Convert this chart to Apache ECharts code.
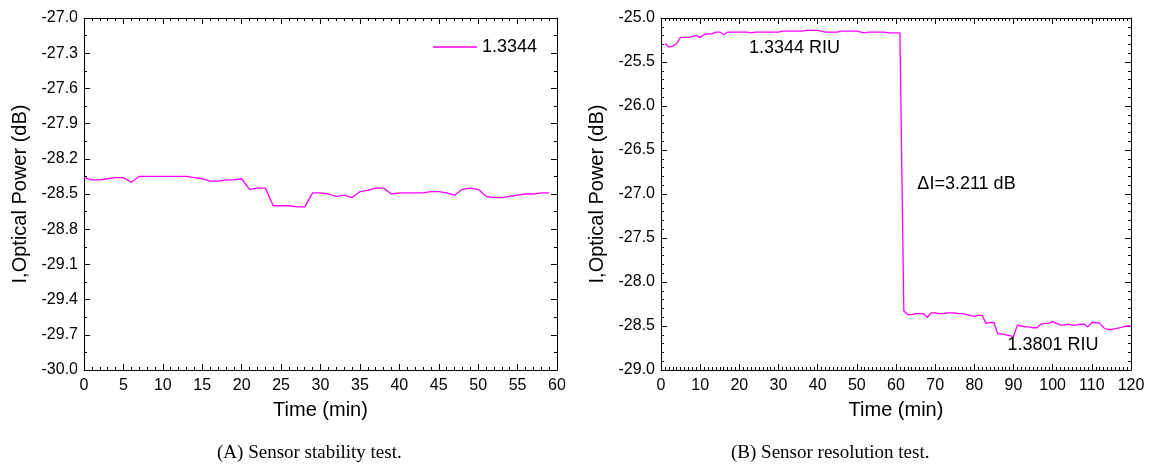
<!DOCTYPE html>
<html>
<head>
<meta charset="utf-8">
<style>
  html, body { margin: 0; padding: 0; background: #fff; }
  #chart { width: 1152px; height: 469px; }
</style>
<script src="https://cdn.jsdelivr.net/npm/echarts@6/dist/echarts.min.js"></script>
</head>
<body>
<div id="chart"></div>
<script>
// (A) 稳定性测试：0-59 min
const stabTime = [0, 1, 2, 3, 4, 5, 6, 7, 8, 9, 10, 11, 12, 13, 14, 15, 16, 17, 18, 19,
  20, 21, 22, 23, 24, 25, 26, 27, 28, 29, 30, 31, 32, 33, 34, 35, 36, 37, 38, 39,
  40, 41, 42, 43, 44, 45, 46, 47, 48, 49, 50, 51, 52, 53, 54, 55, 56, 57, 58, 59]
const stabPower = [-28.36, -28.38, -28.38, -28.37, -28.36, -28.36, -28.40, -28.35, -28.35, -28.35,
  -28.35, -28.35, -28.35, -28.35, -28.36, -28.37, -28.39, -28.39, -28.38, -28.38,
  -28.37, -28.46, -28.45, -28.45, -28.60, -28.60, -28.60, -28.61, -28.61, -28.49,
  -28.49, -28.50, -28.52, -28.51, -28.53, -28.48, -28.47, -28.45, -28.45, -28.50,
  -28.49, -28.49, -28.49, -28.49, -28.48, -28.48, -28.49, -28.51, -28.46, -28.45,
  -28.46, -28.52, -28.53, -28.53, -28.52, -28.51, -28.50, -28.50, -28.49, -28.49]

// (B) 分辨率测试：1-120 min
const resTime = []
for (let t = 1; t <= 120; t++) resTime.push(t)
const resPower = [-25.29, -25.33, -25.32, -25.29, -25.22, -25.22, -25.22, -25.21, -25.20, -25.22,
  -25.19, -25.18, -25.18, -25.16, -25.16, -25.19, -25.16, -25.16, -25.16, -25.16,
  -25.16, -25.16, -25.17, -25.16, -25.16, -25.16, -25.16, -25.16, -25.16, -25.16,
  -25.15, -25.15, -25.15, -25.15, -25.15, -25.15, -25.14, -25.14, -25.14, -25.14,
  -25.15, -25.16, -25.16, -25.16, -25.16, -25.15, -25.15, -25.15, -25.15, -25.15,
  -25.16, -25.17, -25.16, -25.16, -25.16, -25.16, -25.16, -25.17, -25.17, -25.17,
  -25.17, -28.33, -28.37, -28.37, -28.36, -28.36, -28.36, -28.40, -28.35, -28.35,
  -28.36, -28.36, -28.35, -28.35, -28.35, -28.36, -28.36, -28.37, -28.38, -28.39,
  -28.38, -28.38, -28.47, -28.46, -28.46, -28.59, -28.59, -28.60, -28.61, -28.62,
  -28.49, -28.50, -28.51, -28.51, -28.52, -28.52, -28.48, -28.47, -28.47, -28.45,
  -28.47, -28.49, -28.49, -28.48, -28.49, -28.49, -28.48, -28.48, -28.51, -28.46,
  -28.46, -28.47, -28.52, -28.54, -28.54, -28.53, -28.52, -28.51, -28.50, -28.50]

const notes = [
  { name: '1.3344 RIU', coord: [34.1, -25.34] },
  { name: '\u0394I=3.211 dB', coord: [78, -26.89] },
  { name: '1.3801 RIU', coord: [100.1, -28.72] },
]

const font = 'Liberation Sans, Arial, sans-serif'
const lineColor = '#ff00ff'

// 坐标轴：刻度朝内，四边都有
function xAxisOf(grid, max, interval, minorSplit, pos) {
  const isBottom = pos === 'bottom'
  return {
    type: 'value',
    gridIndex: grid,
    position: pos,
    min: 0,
    max: max,
    interval: interval,
    name: isBottom ? 'Time (min)' : '',
    nameLocation: 'middle',
    nameGap: 30,
    nameTextStyle: { color: '#000', fontSize: 20, fontFamily: font },
    axisLine: { show: true, onZero: false, lineStyle: { color: '#000', width: 1 } },
    axisTick: { show: true, inside: true, length: 6, lineStyle: { color: '#000' } },
    minorTick: { show: true, splitNumber: minorSplit, length: 3, lineStyle: { color: '#000' } },
    axisLabel: { show: isBottom, color: '#000', fontSize: 16, fontFamily: font, margin: 8 },
    splitLine: { show: false },
  }
}

function yAxisOf(grid, min, max, interval, minorSplit, pos) {
  const isLeft = pos === 'left'
  return {
    type: 'value',
    gridIndex: grid,
    position: pos,
    min: min,
    max: max,
    interval: interval,
    name: isLeft ? 'I,Optical Power (dB)' : '',
    nameLocation: 'middle',
    nameGap: 54,
    nameRotate: 90,
    nameTextStyle: { color: '#000', fontSize: 20, fontFamily: font },
    axisLine: { show: true, onZero: false, lineStyle: { color: '#000', width: 1 } },
    axisTick: { show: true, inside: true, length: 6, lineStyle: { color: '#000' } },
    minorTick: { show: true, splitNumber: minorSplit, length: 3, lineStyle: { color: '#000' } },
    axisLabel: {
      show: isLeft,
      color: '#000',
      fontSize: 16,
      fontFamily: font,
      margin: 6,
      formatter: (v) => v.toFixed(1),
    },
    splitLine: { show: false },
  }
}

let myChart = echarts.init(document.getElementById('chart'))
let options = {
  animation: false,
  backgroundColor: '#fff',
  grid: [
    { left: 84, top: 18, width: 473, height: 352 },
    { left: 661, top: 18, width: 470, height: 352 },
  ],
  legend: {
    data: ['1.3344'],
    left: 428,
    top: 33,
    icon: 'rect',
    itemWidth: 44,
    itemHeight: 1.5,
    itemGap: 6,
    itemStyle: { color: lineColor },
    textStyle: { color: '#000', fontSize: 18, fontFamily: font },
  },
  xAxis: [
    xAxisOf(0, 60, 5, 5, 'bottom'),
    xAxisOf(0, 60, 5, 5, 'top'),
    xAxisOf(1, 120, 10, 10, 'bottom'),
    xAxisOf(1, 120, 10, 10, 'top'),
  ],
  yAxis: [
    yAxisOf(0, -30, -27, 0.3, 2, 'left'),
    yAxisOf(0, -30, -27, 0.3, 2, 'right'),
    yAxisOf(1, -29, -25, 0.5, 5, 'left'),
    yAxisOf(1, -29, -25, 0.5, 5, 'right'),
  ],
  series: [
    {
      name: '1.3344',
      type: 'line',
      xAxisIndex: 0,
      yAxisIndex: 0,
      symbol: 'none',
      lineStyle: { color: lineColor, width: 1.3 },
      itemStyle: { color: lineColor },
      data: stabTime.map((t, i) => [t, stabPower[i]]),
    },
    {
      name: 'resolution',
      type: 'line',
      xAxisIndex: 2,
      yAxisIndex: 2,
      symbol: 'none',
      lineStyle: { color: lineColor, width: 1.3 },
      itemStyle: { color: lineColor },
      data: resTime.map((t, i) => [t, resPower[i]]),
      markPoint: {
        symbol: 'circle',
        symbolSize: 1,
        itemStyle: { color: 'rgba(0,0,0,0)' },
        label: {
          show: true,
          position: 'inside',
          color: '#000',
          fontSize: 18,
          fontFamily: font,
          formatter: (p) => p.name,
        },
        data: notes,
      },
    },
  ],
  graphic: [
    {
      type: 'text',
      left: 307 - 90,
      top: 444,
      style: {
        text: '(A) Sensor stability test.',
        fill: '#000',
        font: '19px "Liberation Serif", serif',
      },
    },
    {
      type: 'text',
      left: 868 - 137,
      top: 444,
      style: {
        text: '(B) Sensor resolution test.',
        fill: '#000',
        font: '19px "Liberation Serif", serif',
      },
    },
  ],
}
myChart.setOption(options)
window.addEventListener('resize', () => {
  myChart.resize()
})
</script>
</body>
</html>
